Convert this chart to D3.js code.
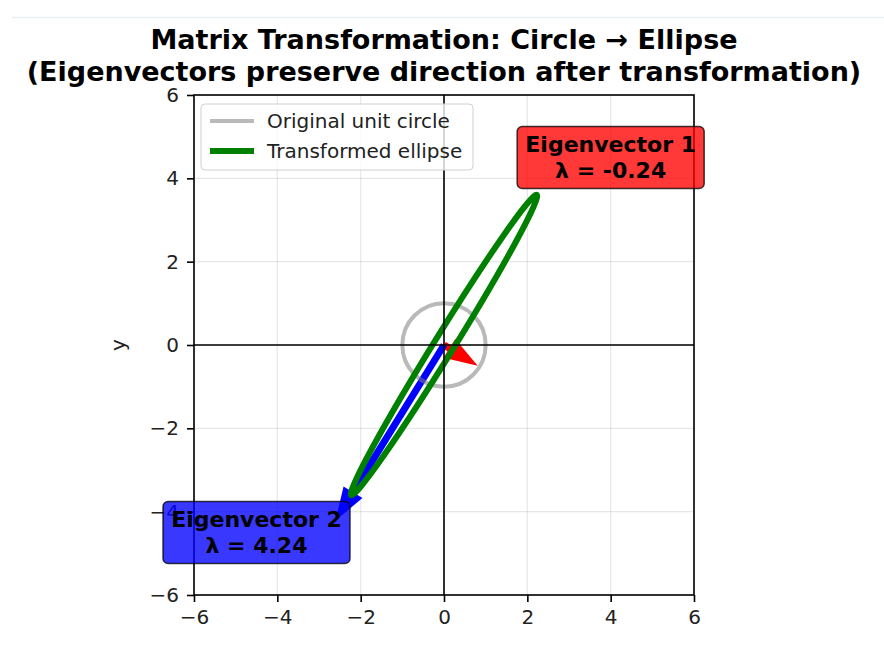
<!DOCTYPE html>
<html>
<head>
<meta charset="utf-8">
<script src="https://cdn.jsdelivr.net/npm/d3@7"></script>
<style>
  body { margin: 0; background: #fff; }
  svg { display: block; font-family: "DejaVu Sans", sans-serif; }
</style>
</head>
<body>
<svg id="chart" width="884" height="660"></svg>
<script>
'use strict';

// chart values
const titleLines = ['Matrix Transformation: Circle \u2192 Ellipse', '(Eigenvectors preserve direction after transformation)'];
const tickValues = [-6, -4, -2, 0, 2, 4, 6];
const eigenvalues = [-0.24, 4.24];
const eigenExact = [-0.236, 4.236];
const eigenvectors = [[-0.851, 0.526], [-0.526, -0.851]];
const eigenColors = ['red', 'blue'];
const labelAnchors = [[4, 4.5], [-4.5, -4.5]];
const circleRadius = [1];
const legendItems = ['Original unit circle', 'Transformed ellipse'];

const svg = d3.select('#chart');
const x = d3.scaleLinear().domain([-6, 6]).range([194, 694]);
const y = d3.scaleLinear().domain([-6, 6]).range([595, 95]);
const unit = x(1) - x(0);

// faint page rule at the top
svg.append('line').attr('x1', 12).attr('x2', 884).attr('y1', 17.5).attr('y2', 17.5)
  .attr('stroke', '#eceef6').attr('stroke-width', 1.5);

// title
svg.append('text')
  .attr('x', 444).attr('text-anchor', 'middle')
  .attr('font-size', 27).attr('font-weight', 'bold')
  .selectAll('tspan').data(titleLines).join('tspan')
  .attr('x', 444).attr('y', (d, i) => 49 + i * 32)
  .text(d => d);

const plot = svg.append('g');

// grid
plot.append('g').selectAll('line').data(tickValues).join('line')
  .attr('x1', d => x(d)).attr('x2', d => x(d)).attr('y1', y(-6)).attr('y2', y(6))
  .attr('stroke', '#b0b0b0').attr('stroke-opacity', 0.3).attr('stroke-width', 1.2);
plot.append('g').selectAll('line').data(tickValues).join('line')
  .attr('y1', d => y(d)).attr('y2', d => y(d)).attr('x1', x(-6)).attr('x2', x(6))
  .attr('stroke', '#b0b0b0').attr('stroke-opacity', 0.3).attr('stroke-width', 1.2);

// eigenvector arrows (shaft = lambda * v, head added beyond)
const headWidth = 0.3, headLength = 0.45;
const arrows = eigenExact.map((lam, i) => {
  const v = eigenvectors[i];
  const bx = lam * v[0], by = lam * v[1];
  const len = Math.hypot(bx, by);
  const ux = bx / len, uy = by / len;
  const px = -uy, py = ux;
  const pts = [
    [0, 0], [bx, by],
    [bx + px * headWidth / 2, by + py * headWidth / 2],
    [bx + ux * headLength, by + uy * headLength],
    [bx - px * headWidth / 2, by - py * headWidth / 2],
    [bx, by]
  ];
  return { pts, color: eigenColors[i] };
});
plot.append('g').selectAll('path').data(arrows).join('path')
  .attr('d', d => d3.line().x(p => x(p[0])).y(p => y(p[1]))(d.pts) + 'Z')
  .attr('fill', d => d.color).attr('stroke', d => d.color)
  .attr('stroke-width', 7).attr('stroke-linejoin', 'miter').attr('stroke-miterlimit', 10);

// original unit circle
plot.append('g').selectAll('circle').data(circleRadius).join('circle')
  .attr('cx', x(0)).attr('cy', y(0)).attr('r', d => d * unit)
  .attr('fill', 'none').attr('stroke', 'gray').attr('stroke-opacity', 0.55).attr('stroke-width', 4);

// transformed ellipse: semi-axes |lambda| along the eigenvectors
const angle = Math.atan2(eigenvectors[1][1], eigenvectors[1][0]) * 180 / Math.PI;
plot.append('ellipse')
  .attr('cx', 0).attr('cy', 0)
  .attr('rx', Math.abs(eigenExact[1]) * unit).attr('ry', Math.abs(eigenExact[0]) * unit)
  .attr('transform', `translate(${x(0)},${y(0)}) rotate(${-angle})`)
  .attr('fill', 'none').attr('stroke', 'green').attr('stroke-width', 6);

// zero lines
plot.append('line').attr('x1', x(-6)).attr('x2', x(6)).attr('y1', y(0)).attr('y2', y(0))
  .attr('stroke', 'black').attr('stroke-width', 1.6);
plot.append('line').attr('x1', x(0)).attr('x2', x(0)).attr('y1', y(-6)).attr('y2', y(6))
  .attr('stroke', 'black').attr('stroke-width', 1.6);

// axes
const xAxis = svg.append('g').attr('transform', `translate(0,${y(-6)})`)
  .call(d3.axisBottom(x).tickValues(tickValues).tickSize(7).tickPadding(8).tickFormat(d3.format('d')));
const yAxis = svg.append('g').attr('transform', `translate(${x(-6)},0)`)
  .call(d3.axisLeft(y).tickValues(tickValues).tickSize(7).tickPadding(8).tickFormat(d3.format('d')));
[xAxis, yAxis].forEach(a => {
  a.select('.domain').remove();
  a.selectAll('line').attr('stroke', 'black').attr('stroke-width', 1.6);
  a.selectAll('text').attr('font-size', 20).attr('fill', '#222').attr('font-family', 'DejaVu Sans')
    .text(d => (d < 0 ? '\u2212' + Math.abs(d) : d));
});
svg.append('rect').attr('x', x(-6)).attr('y', y(6)).attr('width', x(6) - x(-6)).attr('height', y(-6) - y(6))
  .attr('fill', 'none').attr('stroke', 'black').attr('stroke-width', 1.6);

svg.append('text').attr('transform', `translate(125,${y(0)}) rotate(-90)`)
  .attr('text-anchor', 'middle').attr('font-size', 20).attr('fill', '#222').text('y');

// legend
const legend = svg.append('g').attr('transform', 'translate(201,104)');
legend.append('rect').attr('width', 272).attr('height', 66).attr('rx', 4)
  .attr('fill', 'white').attr('fill-opacity', 0.8).attr('stroke', '#d0d0d0');
const legendStyles = [{ color: 'gray', opacity: 0.55, width: 4 }, { color: 'green', opacity: 1, width: 6 }];
const rows = legend.selectAll('g').data(legendItems).join('g')
  .attr('transform', (d, i) => `translate(0,${17 + i * 30})`);
rows.append('line').attr('x1', 9).attr('x2', 53)
  .attr('stroke', (d, i) => legendStyles[i].color)
  .attr('stroke-opacity', (d, i) => legendStyles[i].opacity)
  .attr('stroke-width', (d, i) => legendStyles[i].width);
rows.append('text').attr('x', 66).attr('dy', '0.35em').attr('font-size', 20).attr('fill', '#222').text(d => d);

// eigenvalue labels
const labels = svg.append('g').selectAll('g').data(eigenvalues).join('g')
  .attr('transform', (d, i) => `translate(${x(labelAnchors[i][0])},${y(labelAnchors[i][1])})`);
labels.append('rect')
  .attr('x', -93.5).attr('y', -31).attr('width', 187).attr('height', 62).attr('rx', 5)
  .attr('fill', (d, i) => eigenColors[i]).attr('fill-opacity', 0.78)
  .attr('stroke', 'black').attr('stroke-opacity', 0.75).attr('stroke-width', 1.5);
labels.append('text').attr('text-anchor', 'middle').attr('font-size', 22).attr('font-weight', 'bold')
  .selectAll('tspan').data((d, i) => [`Eigenvector ${i + 1}`, `\u03bb = ${d.toFixed(2)}`]).join('tspan')
  .attr('x', 0).attr('y', (d, j) => (j === 0 ? -13 : 13)).attr('dy', '0.36em')
  .text(d => d);
</script>
</body>
</html>
